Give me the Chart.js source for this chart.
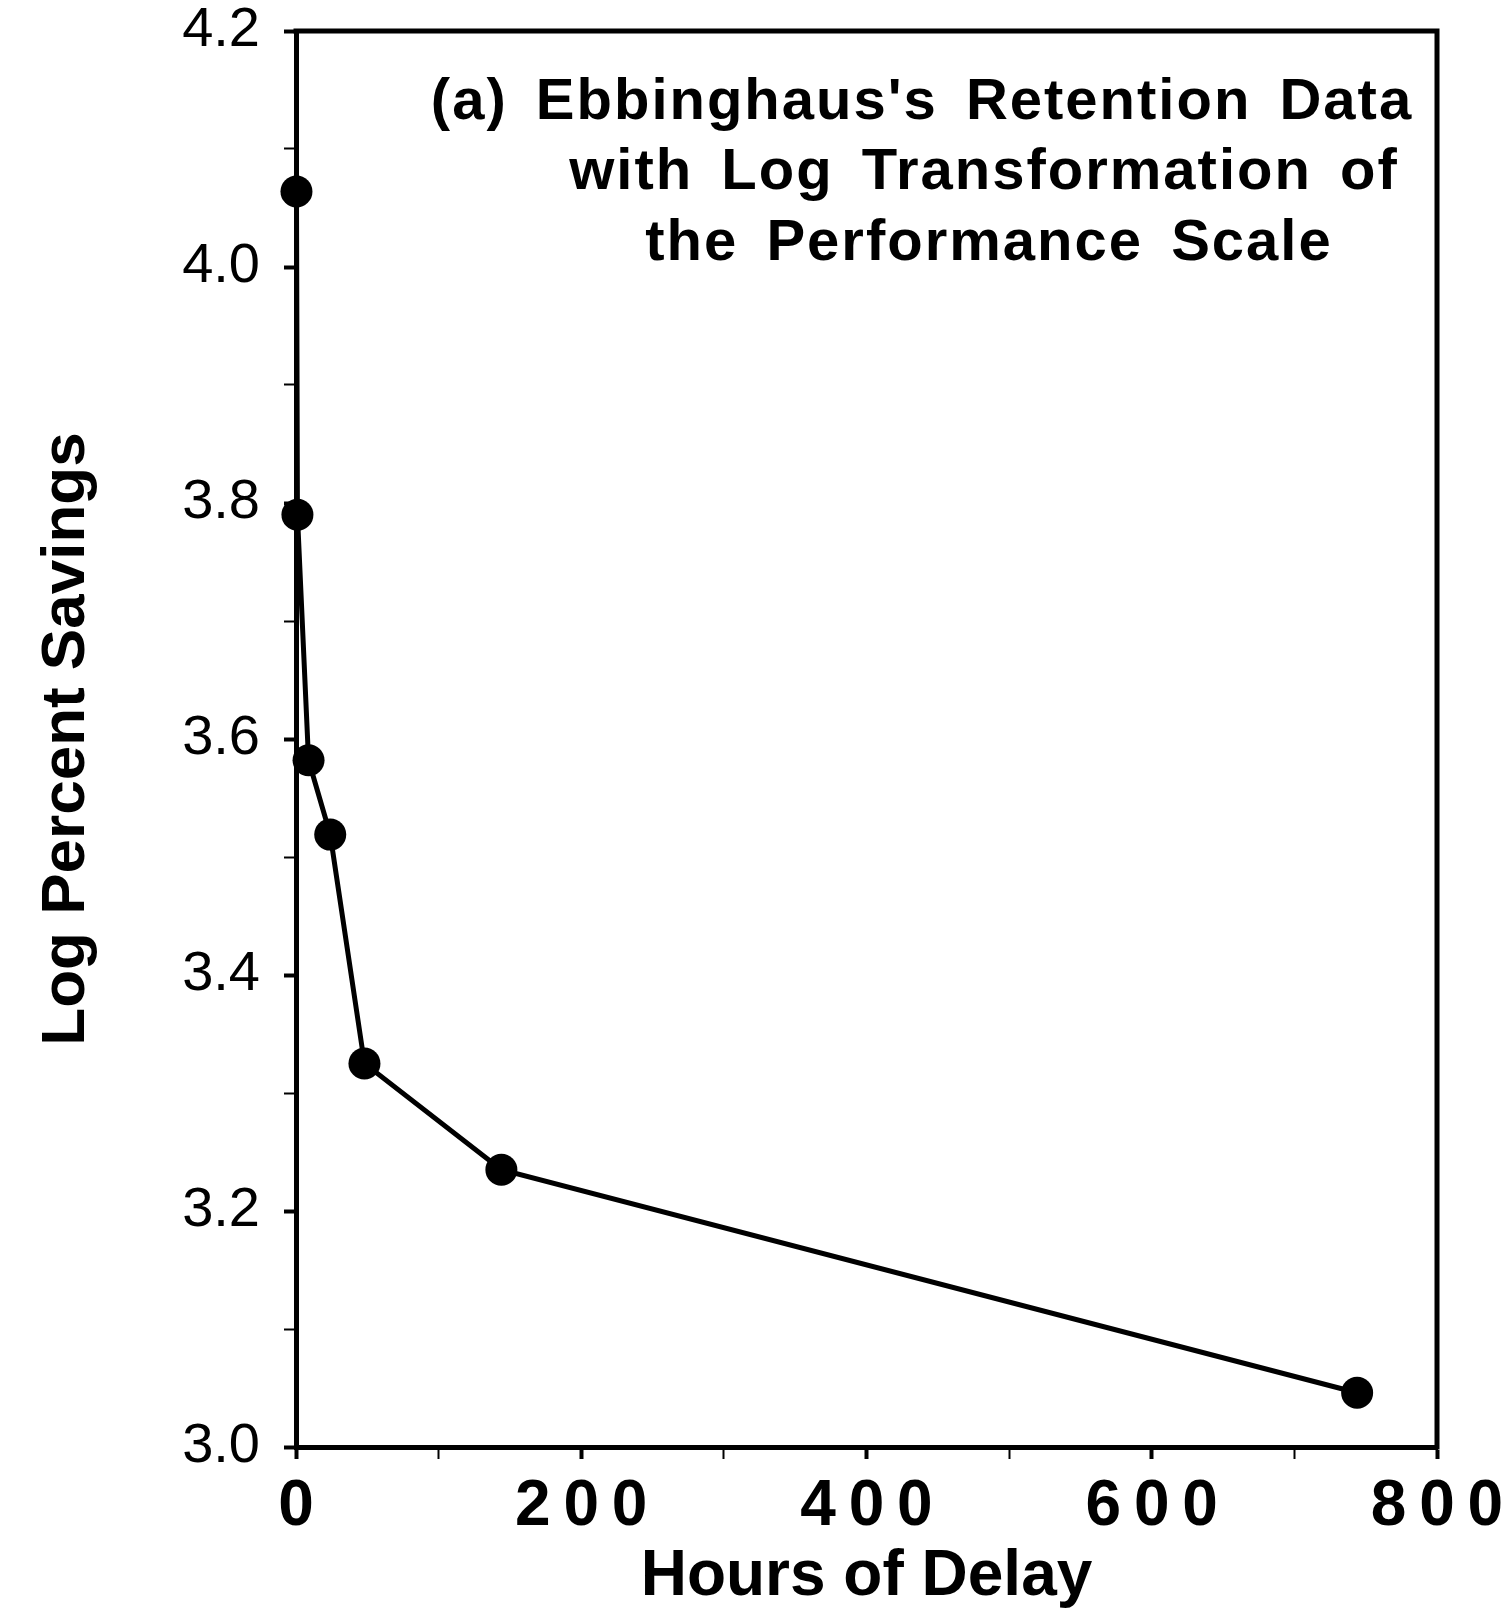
<!DOCTYPE html>
<html>
<head>
<meta charset="utf-8">
<title>Ebbinghaus retention, log savings</title>
<script src="https://cdn.jsdelivr.net/npm/chart.js@4.4.1/dist/chart.umd.min.js"></script>
<style>
  html, body { margin: 0; padding: 0; background: #fff; }
  #wrap { width: 1511px; height: 1615px; }
</style>
</head>
<body>
<div id="wrap"><canvas id="retentionChart" width="1511" height="1615"></canvas></div>
<script>
// Delay since learning (hours) and log of the percent savings on relearning
const delayHours = [0.33, 1, 8.8, 24, 48, 144, 744];
const logSavings = [4.064, 3.790, 3.582, 3.519, 3.325, 3.235, 3.046];

// Labelled tick values; the axes also carry unlabelled ticks halfway between
const xTicks = [0, 200, 400, 600, 800];
const yTicks = [3.0, 3.2, 3.4, 3.6, 3.8, 4.0, 4.2];

const panelTitle = [
  "(a) Ebbinghaus's Retention Data",
  'with Log Transformation of',
  'the Performance Scale',
];

const FONT = "'Liberation Sans', Arial, Helvetica, sans-serif";

const isLabelled = (list, v) => list.some(t => Math.abs(t - v) < 1e-6);

// Top and right edges of the plot box
const framePlugin = {
  id: 'frame',
  beforeDatasetsDraw(chart) {
    const { ctx, chartArea: a } = chart;
    ctx.save();
    ctx.strokeStyle = '#000';
    ctx.lineWidth = 5;
    ctx.lineCap = 'square';
    ctx.beginPath();
    ctx.moveTo(a.left, a.top);
    ctx.lineTo(a.right, a.top);
    ctx.lineTo(a.right, a.bottom);
    ctx.stroke();
    ctx.restore();
  }
};

// Panel caption in the upper right of the plot
const captionPlugin = {
  id: 'caption',
  afterDraw(chart) {
    const { ctx, chartArea: a } = chart;
    const centres = [626, 688, 693];
    const rows = [103, 173, 244];
    ctx.save();
    ctx.fillStyle = '#000';
    ctx.font = `bold 58px ${FONT}`;
    ctx.textAlign = 'center';
    ctx.textBaseline = 'middle';
    ctx.letterSpacing = '2px';
    ctx.wordSpacing = '10px';
    panelTitle.forEach((line, i) => {
      ctx.fillText(line, a.left + centres[i], rows[i]);
    });
    ctx.restore();
  }
};

const renderChart = () => {
  const ctx = document.getElementById('retentionChart').getContext('2d');
  const points = delayHours.map((h, i) => ({ x: h, y: logSavings[i] }));

  new Chart(ctx, {
    type: 'scatter',
    data: {
      datasets: [{
        data: points,
        showLine: true,
        clip: false,
        borderColor: '#000',
        borderWidth: 5,
        backgroundColor: '#000',
        pointBorderWidth: 0,
        pointRadius: 16,
        pointHoverRadius: 16,
      }],
    },
    options: {
      responsive: false,
      animation: false,
      layout: { padding: { top: 31, right: 74, left: 0, bottom: 0 } },
      plugins: {
        legend: { display: false },
        tooltip: { enabled: false },
      },
      scales: {
        x: {
          type: 'linear',
          min: 0,
          max: 800,
          afterFit: s => {
            s.height = 168;
            s.paddingLeft = 0;
            s.paddingRight = 0;
          },
          border: { color: '#000', width: 5 },
          grid: {
            drawOnChartArea: false,
            tickLength: 12,
            tickColor: '#000',
            tickWidth: c => (isLabelled(xTicks, c.tick.value) ? 4 : 2),
          },
          ticks: {
            stepSize: 100,
            autoSkip: false,
            maxRotation: 0,
            color: '#000',
            padding: 10,
            font: { family: FONT, size: 64, weight: 'bold' },
            callback: v => (isLabelled(xTicks, v) ? String(v).split('').join('\u2009') : ''),
          },
          title: {
            display: true,
            text: 'Hours of Delay',
            color: '#000',
            font: { family: FONT, size: 64, weight: 'bold', lineHeight: 1 },
            padding: { top: 0, bottom: 6 },
          },
        },
        y: {
          min: 3.0,
          max: 4.2,
          afterFit: s => {
            s.width = 296;
            s.paddingTop = 0;
            s.paddingBottom = 0;
          },
          border: { color: '#000', width: 5 },
          grid: {
            drawOnChartArea: false,
            tickLength: 12,
            tickColor: '#000',
            tickWidth: c => (isLabelled(yTicks, c.tick.value) ? 4 : 2),
          },
          ticks: {
            stepSize: 0.1,
            autoSkip: false,
            color: '#000',
            padding: 24,
            font: { family: FONT, size: 56 },
            callback: v => (isLabelled(yTicks, v) ? v.toFixed(1) : ''),
          },
          title: {
            display: true,
            text: 'Log Percent Savings',
            color: '#000',
            font: { family: FONT, size: 62, weight: 'bold', lineHeight: 1 },
            padding: { top: 36, bottom: 0 },
          },
        },
      },
    },
    plugins: [framePlugin, captionPlugin],
  });
};

renderChart();
</script>
</body>
</html>
